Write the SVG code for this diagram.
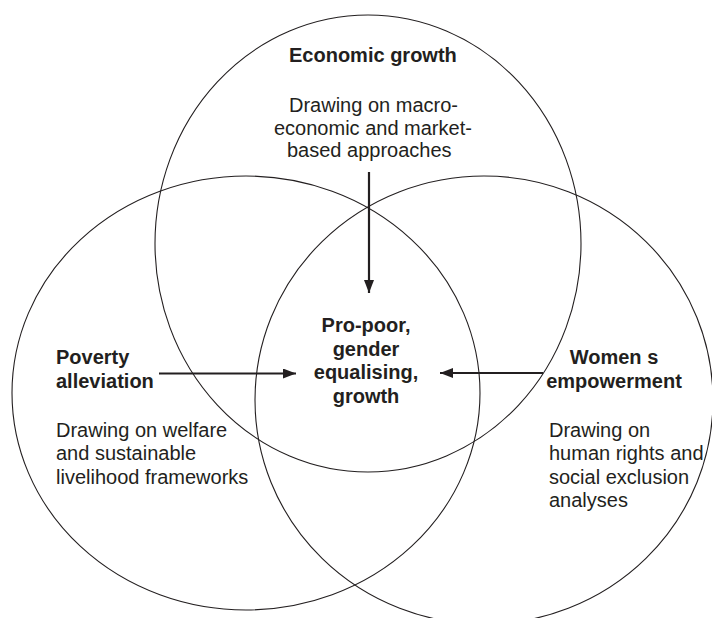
<svg xmlns="http://www.w3.org/2000/svg" width="712" height="618" viewBox="0 0 712 618">
<style>
.c{fill:none;stroke:#231f20;stroke-width:1.1}
.a{stroke:#231f20;stroke-width:2.2;fill:none}
text{font-family:"Liberation Sans",Arial,sans-serif;font-size:20px;fill:#231f20}
.b{font-weight:bold}
.m{text-anchor:middle}
</style>
<defs>
<marker id="ah" markerWidth="14" markerHeight="12" refX="13" refY="5" orient="auto" markerUnits="userSpaceOnUse">
<path d="M0,0 L13,5 L0,10 Z" fill="#231f20"/>
</marker>
</defs>
<rect width="712" height="618" fill="#fff"/>
<g id="economic-growth">
<ellipse class="c" cx="368" cy="243.5" rx="213" ry="228.5"/>
<text class="b" x="289" y="62">Economic growth</text>
<text x="289" y="112">Drawing on macro-</text>
<text x="274" y="134.5">economic and market-</text>
<text x="287" y="157">based approaches</text>
</g>
<g id="poverty-alleviation">
<ellipse class="c" cx="246" cy="393" rx="234" ry="217"/>
<text class="b" x="56" y="364">Poverty</text>
<text class="b" x="56" y="388">alleviation</text>
<text x="56" y="436.5">Drawing on welfare</text>
<text x="56" y="460">and sustainable</text>
<text x="56" y="483.5">livelihood frameworks</text>
</g>
<g id="womens-empowerment">
<ellipse class="c" cx="484" cy="400" rx="229" ry="224"/>
<text class="b m" x="614" y="364">Women s</text>
<text class="b m" x="614" y="388">empowerment</text>
<text x="549" y="436.5">Drawing on</text>
<text x="549" y="460">human rights and</text>
<text x="549" y="483.5">social exclusion</text>
<text x="549" y="507">analyses</text>
</g>
<g id="pro-poor-growth">
<text class="b m" x="366" y="332">Pro-poor,</text>
<text class="b m" x="366" y="355.5">gender</text>
<text class="b m" x="366" y="379">equalising,</text>
<text class="b m" x="366" y="402.5">growth</text>
</g>
<g id="connectors">
<line class="a" x1="369" y1="172" x2="369" y2="293" marker-end="url(#ah)"/>
<line class="a" x1="159" y1="373.5" x2="296" y2="373.5" marker-end="url(#ah)"/>
<line class="a" x1="543" y1="373" x2="440" y2="373" marker-end="url(#ah)"/>
</g>
</svg>
